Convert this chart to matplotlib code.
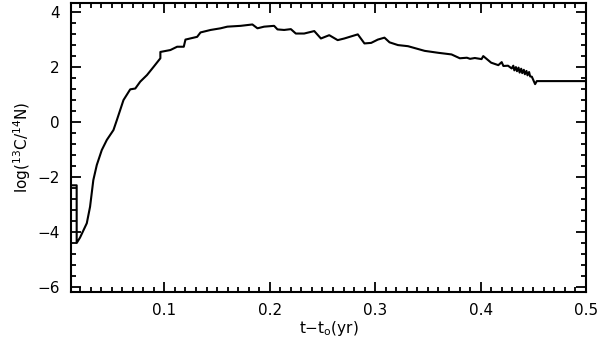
import numpy as np
import matplotlib.pyplot as plt
from matplotlib.ticker import MultipleLocator

plt.rcParams['font.family'] = 'DejaVu Sans'
plt.rcParams['mathtext.default'] = 'regular'

# curve (t - t0 in yr, log 13C/14N)
t_yr = [0.0114, 0.0168, 0.0168, 0.0200, 0.0264, 0.0295, 0.0326, 0.0359, 0.0406,
        0.0454, 0.0517, 0.0549, 0.0581, 0.0612, 0.0676, 0.0724, 0.0771, 0.0835,
        0.0898, 0.0962, 0.0962, 0.1057, 0.1121, 0.1184, 0.1200, 0.1311, 0.1343,
        0.1438, 0.1533, 0.1597, 0.1724, 0.1835, 0.1883, 0.1946, 0.2041, 0.2073,
        0.2136, 0.2200, 0.2247, 0.2326, 0.2422, 0.2485, 0.2564, 0.2644, 0.2707,
        0.2835, 0.2898, 0.2962, 0.3025, 0.3088, 0.3136, 0.3216, 0.3311, 0.3469,
        0.3597, 0.3724, 0.3803, 0.3870, 0.3900, 0.3945, 0.4009, 0.4025, 0.4100,
        0.4168, 0.4200, 0.4216, 0.4260, 0.4295, 0.4310, 0.4320, 0.4335, 0.4345,
        0.4360, 0.4370, 0.4385, 0.4395, 0.4410, 0.4420, 0.4435, 0.4445, 0.4460,
        0.4470, 0.4486, 0.4517, 0.4533, 0.5000]
log_ratio = [-2.30, -2.30, -4.40, -4.20, -3.68, -3.08, -2.11, -1.56, -1.02,
             -0.65, -0.29, 0.07, 0.44, 0.80, 1.19, 1.22, 1.47, 1.71,
             2.01, 2.32, 2.55, 2.62, 2.74, 2.74, 3.00, 3.10, 3.26,
             3.35, 3.41, 3.47, 3.50, 3.55, 3.41, 3.47, 3.50, 3.37,
             3.35, 3.38, 3.22, 3.22, 3.31, 3.04, 3.16, 2.98, 3.04,
             3.19, 2.86, 2.88, 3.00, 3.07, 2.90, 2.80, 2.76, 2.59,
             2.52, 2.46, 2.32, 2.34, 2.30, 2.33, 2.29, 2.40, 2.16,
             2.07, 2.18, 2.04, 2.05, 1.95, 2.05, 1.88, 2.00, 1.85,
             1.98, 1.80, 1.94, 1.78, 1.90, 1.74, 1.86, 1.70, 1.82,
             1.66, 1.65, 1.38, 1.49, 1.49]

fig = plt.figure(figsize=(6.0, 3.55), dpi=100)
ax = fig.add_axes([0.1183, 0.1783, 0.8584, 0.8132])
ax.plot(t_yr, log_ratio, color='black', lw=1.5)

ax.set_xlim(0.0114, 0.5)
ax.set_ylim(-6.17, 4.33)
ax.set_xticks([0.1, 0.2, 0.3, 0.4, 0.5])
ax.set_xticklabels(['0.1', '0.2', '0.3', '0.4', '0.5'])
ax.set_yticks([-6, -4, -2, 0, 2, 4])
ax.set_yticklabels(['\u22126', '\u22124', '\u22122', '0', '2', '4'])
ax.xaxis.set_minor_locator(MultipleLocator(0.01))
ax.yaxis.set_minor_locator(MultipleLocator(0.4))
ax.tick_params(which='both', direction='in', top=True, right=True,
               labelsize=11, width=1.3, pad=8)
ax.tick_params(which='major', length=7)
ax.tick_params(which='minor', length=3.5)
for s in ax.spines.values():
    s.set_linewidth(1.5)

ax.set_xlabel(r't$-$t$_{o}$(yr)', fontsize=11, labelpad=1)
ax.set_ylabel(r'log($^{13}$C/$^{14}$N)', fontsize=11, labelpad=3)

fig.savefig('out.png', dpi=100)
